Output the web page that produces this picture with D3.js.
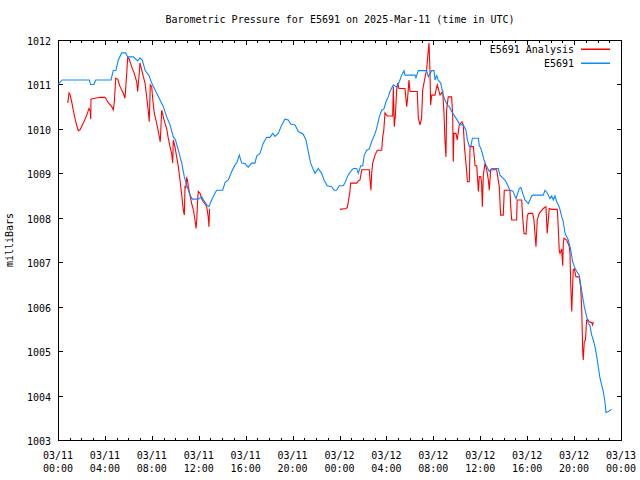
<!DOCTYPE html>
<html><head><meta charset="utf-8">
<script src="https://cdn.jsdelivr.net/npm/d3@7"></script>
<style>
html,body{margin:0;padding:0;background:#fff;}
text{font-family:"DejaVu Sans Mono","Liberation Mono",monospace;font-size:10px;fill:#000;}
</style></head>
<body><svg id="c" width="640" height="480"></svg>
<script>
// ---- data (hours since 2025-03-11 00:00 UTC, pressure in mbar) ----
const titleText = "Barometric Pressure for E5691 on 2025-Mar-11 (time in UTC)";
const yLabel = "milliBars";
const yTicks = [1003,1004,1005,1006,1007,1008,1009,1010,1011,1012];
const xTickHours = [0,4,8,12,16,20,24,28,32,36,40,44,48];
const xTickDates = ["03/11","03/11","03/11","03/11","03/11","03/11","03/12","03/12","03/12","03/12","03/12","03/12","03/13"];
const xTickTimes = ["00:00","04:00","08:00","12:00","16:00","20:00","00:00","04:00","08:00","12:00","16:00","20:00","00:00"];
const seriesNames = ["E5691 Analysis","E5691"];

const obsHours = [0.00,0.34,2.67,2.77,3.07,3.21,4.52,4.71,4.94,5.14,5.43,5.77,5.94,6.42,6.79,6.99,7.19,7.42,7.76,7.99,8.27,8.70,8.98,9.27,9.55,9.83,10.02,10.26,10.55,10.77,10.97,11.25,11.45,11.96,12.25,12.45,12.68,12.87,13.10,13.38,13.53,14.04,14.24,14.52,14.81,15.09,15.26,15.46,15.66,15.94,16.22,16.51,16.79,16.94,17.22,17.50,17.79,18.07,18.30,18.50,18.78,19.07,19.35,19.63,19.84,20.21,20.49,20.91,21.14,21.34,21.54,21.77,21.91,22.19,22.48,22.68,22.96,23.33,23.53,23.76,23.98,24.32,24.46,24.66,24.83,25.17,25.47,25.60,25.81,25.98,26.11,26.32,26.54,26.74,27.03,27.17,27.39,27.60,27.79,27.96,28.16,28.30,28.59,28.88,29.10,29.30,29.50,29.58,30.44,30.52,30.72,31.43,31.57,31.86,32.06,32.14,32.29,32.42,32.63,32.80,32.99,33.19,33.36,33.56,33.76,33.99,34.27,34.55,34.78,34.90,35.07,35.21,35.33,35.84,35.92,36.04,36.18,36.32,36.49,36.64,36.77,36.98,37.54,37.68,38.11,38.25,38.53,38.79,39.05,39.33,39.47,39.62,39.81,40.10,40.24,40.38,40.52,41.37,41.52,41.66,41.80,41.94,42.09,42.23,42.37,42.52,42.66,42.80,42.94,43.08,43.23,43.51,43.65,43.71,43.88,44.02,44.22,44.44,44.56,44.73,44.87,45.07,45.21,45.35,45.50,45.64,45.78,45.93,46.06,46.21,46.35,46.49,46.63,46.72,46.92,47.20];
const obsValues = [1011.0,1011.1,1011.1,1011.0,1011.0,1011.1,1011.1,1011.31,1011.32,1011.55,1011.71,1011.71,1011.62,1011.62,1011.53,1011.6,1011.55,1011.32,1011.2,1011.03,1010.88,1010.65,1010.5,1010.27,1010.09,1009.82,1009.75,1009.52,1009.23,1008.92,1008.74,1008.51,1008.42,1008.42,1008.47,1008.38,1008.29,1008.25,1008.4,1008.55,1008.62,1008.62,1008.79,1008.85,1009.04,1009.19,1009.25,1009.41,1009.23,1009.22,1009.14,1009.23,1009.23,1009.39,1009.45,1009.68,1009.81,1009.81,1009.90,1009.83,1009.90,1010.09,1010.22,1010.2,1010.11,1010.09,1009.94,1009.88,1009.75,1009.49,1009.23,1009.08,1009.0,1009.11,1009.0,1008.85,1008.72,1008.70,1008.62,1008.62,1008.72,1008.72,1008.78,1008.92,1009.0,1009.11,1009.11,1009.0,1009.17,1009.17,1009.41,1009.52,1009.55,1009.71,1009.90,1010.01,1010.27,1010.42,1010.45,1010.61,1010.72,1010.84,1010.99,1010.94,1011.06,1011.21,1011.31,1011.21,1011.21,1011.15,1011.31,1011.31,1011.17,1011.31,1011.31,1011.1,1011.2,1011.1,1011.03,1010.8,1010.65,1010.54,1010.5,1010.39,1010.31,1010.22,1010.09,1010.09,1009.97,1009.75,1009.61,1009.62,1009.79,1009.79,1009.62,1009.57,1009.45,1009.30,1009.19,1009.11,1009.04,1009.11,1009.11,1008.96,1008.85,1008.78,1008.62,1008.6,1008.43,1008.66,1008.68,1008.55,1008.40,1008.32,1008.40,1008.49,1008.51,1008.51,1008.62,1008.58,1008.51,1008.43,1008.49,1008.40,1008.49,1008.36,1008.29,1008.18,1008.03,1007.91,1007.65,1007.50,1007.35,1007.28,1007.01,1006.90,1006.79,1006.71,1006.49,1006.22,1006.0,1005.78,1005.62,1005.58,1005.36,1005.25,1005.10,1004.88,1004.65,1004.39,1004.24,1004.09,1003.86,1003.62,1003.64,1003.69];

const anaHours1 = [0.83,0.94,1.02,1.17,1.30,1.51,1.73,1.88,2.16,2.45,2.64,2.75,2.79,2.81,3.15,3.58,4.01,4.29,4.58,4.71,4.80,4.92,5.09,5.29,5.57,5.71,5.86,5.94,6.05,6.28,6.50,6.71,6.79,6.88,6.99,7.14,7.27,7.42,7.56,7.70,7.78,7.87,7.99,8.07,8.21,8.35,8.50,8.61,8.72,8.84,8.98,9.12,9.27,9.40,9.55,9.69,9.78,9.83,9.97,10.12,10.26,10.40,10.55,10.68,10.77,10.83,10.90,10.97,11.04,11.11,11.25,11.40,11.54,11.68,11.77,11.83,11.91,11.96,12.11,12.25,12.39,12.53,12.68,12.82,12.87,12.92];
const anaValues1 = [1010.58,1010.81,1010.78,1010.61,1010.42,1010.16,1009.96,1009.98,1010.13,1010.31,1010.46,1010.40,1010.22,1010.67,1010.69,1010.71,1010.71,1010.59,1010.5,1010.43,1010.6,1011.14,1011.12,1010.95,1010.80,1010.69,1011.25,1011.61,1011.58,1011.40,1011.25,1011.06,1010.84,1011.1,1011.48,1011.33,1011.18,1011.03,1010.73,1010.39,1010.16,1010.99,1010.95,1010.69,1010.35,1010.20,1010.01,1009.86,1009.71,1010.42,1010.27,1010.13,1010.0,1009.79,1009.60,1009.45,1009.23,1009.75,1009.60,1009.37,1009.15,1008.85,1008.51,1008.18,1008.06,1008.70,1008.68,1008.89,1008.85,1008.70,1008.51,1008.32,1008.18,1007.95,1007.76,1007.95,1008.43,1008.59,1008.55,1008.43,1008.36,1008.32,1008.25,1007.99,1007.80,1008.2];
const anaHours2 = [24.04,24.55,24.66,24.75,24.89,24.95,25.47,25.60,25.75,25.89,26.54,26.60,26.68,26.74,26.83,27.03,27.22,27.60,27.68,27.77,27.88,28.07,28.53,28.59,28.67,28.76,28.88,28.96,29.07,29.58,29.73,29.81,29.92,30.01,30.63,30.72,30.86,31.00,31.09,31.28,31.43,31.52,31.63,31.71,31.77,31.86,32.14,32.23,32.34,32.57,32.80,32.91,32.99,33.08,33.13,33.27,33.56,33.65,33.70,33.76,33.93,34.04,34.21,34.44,34.55,34.66,34.80,34.91,35.07,35.13,35.41,35.50,35.56,35.70,35.84,35.92,36.04,36.11,36.18,36.26,36.41,36.55,36.69,36.77,36.89,37.40,37.62,37.74,37.96,38.05,38.53,38.59,38.68,39.10,39.15,39.53,39.62,39.73,39.90,40.01,40.10,40.47,40.58,40.75,40.86,41.03,41.37,41.60,41.71,41.88,42.09,42.57,42.66,42.74,42.80,42.94,43.03,43.08,43.14,43.37,43.59,43.65,43.71,43.80,43.88,43.93,44.02,44.16,44.44,44.56,44.65,44.73,44.78,44.87,44.97,45.07,45.21,45.29,45.50,45.58,45.63];
const anaValues2 = [1008.19,1008.21,1008.23,1008.36,1008.59,1008.78,1008.78,1008.83,1008.85,1009.08,1009.08,1008.85,1008.62,1009.0,1009.23,1009.41,1009.52,1009.52,1009.82,1009.95,1010.36,1010.29,1010.29,1010.95,1010.05,1010.29,1010.89,1011.03,1010.91,1010.91,1010.5,1010.7,1011.1,1010.84,1010.84,1010.24,1010.09,1010.24,1010.88,1011.14,1011.33,1011.62,1011.93,1011.33,1010.54,1010.76,1010.76,1010.88,1010.99,1010.76,1010.84,1010.35,1009.75,1009.37,1010.42,1010.72,1010.72,1010.3,1009.26,1009.9,1009.9,1009.75,1010.09,1010.16,1010.09,1009.57,1009.17,1008.81,1008.81,1009.60,1009.60,1009.35,1009.17,1009.17,1008.59,1008.93,1008.93,1008.8,1008.25,1008.96,1009.23,1009.08,1008.85,1008.62,1009.08,1009.08,1008.70,1008.06,1008.06,1008.62,1008.62,1008.29,1007.95,1007.95,1008.40,1008.40,1007.99,1007.65,1007.63,1008.03,1008.10,1008.10,1007.95,1007.35,1007.95,1008.10,1008.21,1008.25,1007.65,1008.21,1008.19,1008.19,1007.72,1007.24,1007.20,1007.3,1006.92,1007.42,1007.54,1007.50,1007.35,1007.2,1006.53,1005.89,1006.49,1006.83,1006.85,1006.67,1006.67,1006.45,1005.96,1005.03,1004.80,1005.21,1005.25,1005.70,1005.70,1005.66,1005.64,1005.59,1005.66];

// ---- drawing ----
const svg = d3.select("#c");
const L = 58, R = 621, T = 40, B = 440;
const x = d3.scaleLinear().domain([0,48]).range([L,R]);
const y = d3.scaleLinear().domain([1003,1012]).range([B,T]);
const colors = ["#ff0000","#0a88ff"];

svg.append("text").attr("x",340).attr("y",23).attr("text-anchor","middle").text(titleText);
svg.append("text").attr("transform","translate(13,240) rotate(-90)").attr("text-anchor","middle").text(yLabel);

const g = svg.append("g").attr("shape-rendering","crispEdges");
g.append("rect").attr("x",L+0.5).attr("y",T+0.5).attr("width",R-L).attr("height",B-T)
  .attr("fill","none").attr("stroke","#000").attr("stroke-width",1);

yTicks.forEach(v=>{
  const yy = Math.round(y(v))+0.5;
  g.append("line").attr("x1",L).attr("x2",L+5).attr("y1",yy).attr("y2",yy).attr("stroke","#000");
  g.append("line").attr("x1",R+1).attr("x2",R-4).attr("y1",yy).attr("y2",yy).attr("stroke","#000");
  svg.append("text").attr("x",51).attr("y",yy+4).attr("text-anchor","end").text(v);
});
d3.range(0,49).forEach(h=>{
  const xx = Math.round(x(h))+0.5;
  const len = (h%4===0)?5:3;
  g.append("line").attr("x1",xx).attr("x2",xx).attr("y1",B+1).attr("y2",B+1-len).attr("stroke","#000");
  g.append("line").attr("x1",xx).attr("x2",xx).attr("y1",T).attr("y2",T+len).attr("stroke","#000");
});
xTickHours.forEach((h,i)=>{
  const xx = x(h);
  svg.append("text").attr("x",xx).attr("y",459).attr("text-anchor","middle").text(xTickDates[i]);
  svg.append("text").attr("x",xx).attr("y",472).attr("text-anchor","middle").text(xTickTimes[i]);
});

const line = d3.line().x(d=>x(d[0])).y(d=>y(d[1]));
const seg1 = anaHours1.map((h,i)=>[h,anaValues1[i]]);
const seg2 = anaHours2.map((h,i)=>[h,anaValues2[i]]);
const obs = obsHours.map((h,i)=>[h,obsValues[i]]);
[seg1,seg2].forEach(s=>{
  svg.append("path").attr("d",line(s)).attr("fill","none").attr("stroke",colors[0]).attr("stroke-width",1.1);
});
svg.append("path").attr("d",line(obs)).attr("fill","none").attr("stroke",colors[1]).attr("stroke-width",1.1);

seriesNames.forEach((n,i)=>{
  const yy = 49 + i*14;
  svg.append("text").attr("x",574).attr("y",yy+4).attr("text-anchor","end").text(n);
  svg.append("rect").attr("x",581).attr("y",yy-0.5).attr("width",29).attr("height",1.5).attr("fill",colors[i]);
});
</script></body></html>
